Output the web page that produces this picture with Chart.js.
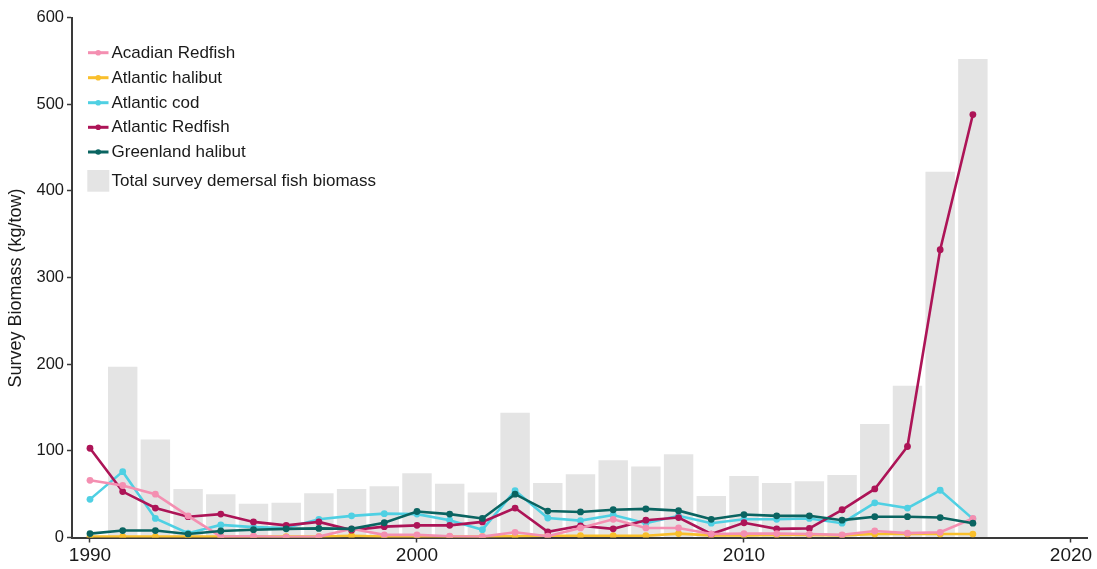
<!DOCTYPE html>
<html>
<head>
<meta charset="utf-8">
<title>Survey Biomass</title>
<script src="https://cdn.jsdelivr.net/npm/chart.js@4.4.1/dist/chart.umd.min.js"></script>
<style>
  html, body { margin: 0; padding: 0; background: #ffffff; }
  #wrap { position: relative; width: 1097px; height: 569px; }
</style>
</head>
<body>
<div id="wrap"><canvas id="chart"></canvas></div>
<script>
// Survey years
const years = [1990, 1991, 1992, 1993, 1994, 1995, 1996, 1997, 1998, 1999,
               2000, 2001, 2002, 2003, 2004, 2005, 2006, 2007, 2008, 2009,
               2010, 2011, 2012, 2013, 2014, 2015, 2016, 2017];

// Total survey demersal fish biomass (kg/tow)
const totalBiomass = [null, 197, 113, 56, 50, 39, 40, 51, 56, 59,
                      74, 62, 52, 144, 63, 73, 89, 82, 96, 48,
                      71, 63, 65, 72, 131, 175, 422, 552];

// Species biomass (kg/tow)
const acadianRedfish = [66, 60, 50, 25, 1, 1.5, 0.5, 1, 10, 3,
                        3, 1.5, 1, 6, 1.5, 11, 21, 11, 11, 4,
                        4.5, 4.5, 4, 3, 7.5, 5, 6, 22];
const atlanticHalibut = [1, 1, 1, 1, 1, 1, 1, 1, 2, 1,
                         1, 1, 1, 1.5, 2, 2, 2, 2, 4.5, 2.5,
                         2.5, 3, 3, 2.5, 4, 4, 4, 4];
const atlanticCod = [44, 76, 22, 5, 14.5, 12, 11, 21, 25, 27.5,
                     27, 20, 9, 54, 22.5, 19.5, 26, 16.5, 25, 16.5,
                     21, 21, 22, 16.5, 40, 34, 54.5, 21.5];
const atlanticRedfish = [103, 53, 34, 24, 27, 18, 14, 18, 8.5, 12.5,
                         14, 14, 18, 34, 6.5, 13.5, 10, 20, 23, 4,
                         17, 10, 10.5, 32, 56, 105, 332, 488];
const greenlandHalibut = [4.5, 8, 8, 4, 7.5, 9, 10, 10.5, 10, 17,
                          30, 27, 22, 50, 30.5, 29.5, 32, 33, 31, 21,
                          26.5, 25, 25, 20, 24, 24, 23, 16.5];

// Axis ticks
const xTickYears = [1990, 2000, 2010, 2020];
const yTickValues = [0, 100, 200, 300, 400, 500, 600];

const FONT = '"Liberation Sans", Arial, Helvetica, sans-serif';
const AXIS_COLOR = '#3a3a3a';
const TEXT_COLOR = '#1a1a1a';

const pairs = (vals) => years.map((y, i) => ({ x: y, y: vals[i] }));

function lineSet(label, vals, color, order) {
  return {
    type: 'line',
    label: label,
    data: pairs(vals),
    borderColor: color,
    backgroundColor: color,
    borderWidth: 2.6,
    pointRadius: 3.4,
    pointHoverRadius: 3.4,
    pointBorderWidth: 0,
    tension: 0,
    order: order
  };
}

const datasets = [
  lineSet('Acadian Redfish', acadianRedfish, '#f48fb1', 2),
  lineSet('Atlantic halibut', atlanticHalibut, '#f9bf2c', 5),
  lineSet('Atlantic cod', atlanticCod, '#4fd0e3', 4),
  lineSet('Atlantic Redfish', atlanticRedfish, '#ad1457', 3),
  lineSet('Greenland halibut', greenlandHalibut, '#0a6461', 1),
  {
    type: 'bar',
    label: 'Total survey demersal fish biomass',
    data: pairs(totalBiomass),
    backgroundColor: '#e4e4e4',
    borderWidth: 0,
    barPercentage: 0.9,
    categoryPercentage: 1.0,
    order: 10
  }
];

// Legend inside the plot and the rotated y-axis title
const overlay = {
  id: 'overlay',
  afterDraw(chart) {
    const ctx = chart.ctx;
    ctx.save();
    ctx.font = '17px ' + FONT;
    ctx.textBaseline = 'middle';
    ctx.textAlign = 'left';
    const rows = [52.7, 77.7, 102.7, 127.3, 152];
    chart.data.datasets.forEach((ds, i) => {
      if (ds.type === 'line') {
        const y = rows[i];
        ctx.strokeStyle = ds.borderColor;
        ctx.lineWidth = 3;
        ctx.beginPath();
        ctx.moveTo(88, y);
        ctx.lineTo(108.5, y);
        ctx.stroke();
        ctx.fillStyle = ds.borderColor;
        ctx.beginPath();
        ctx.arc(98.2, y, 2.8, 0, Math.PI * 2);
        ctx.fill();
        ctx.fillStyle = TEXT_COLOR;
        ctx.fillText(ds.label, 111.5, y + 0.5);
      } else {
        ctx.fillStyle = ds.backgroundColor;
        ctx.fillRect(87.3, 170, 22, 21.7);
        ctx.fillStyle = TEXT_COLOR;
        ctx.fillText(ds.label, 111.5, 181.5);
      }
    });
    // y-axis title
    ctx.translate(16.5, 288);
    ctx.rotate(-Math.PI / 2);
    ctx.textAlign = 'center';
    ctx.font = '18px ' + FONT;
    ctx.fillStyle = TEXT_COLOR;
    ctx.fillText('Survey Biomass (kg/tow)', 0, 0);
    ctx.restore();
  }
};

new Chart(document.getElementById('chart'), {
  type: 'line',
  data: { datasets: datasets },
  plugins: [overlay],
  options: {
    responsive: true,
    maintainAspectRatio: false,
    animation: false,
    devicePixelRatio: 1,
    layout: { padding: { top: 17.5, right: 10, bottom: 0, left: 0 } },
    plugins: {
      legend: { display: false },
      tooltip: { enabled: false }
    },
    scales: {
      x: {
        type: 'linear',
        min: 1989.45,
        max: 2020.49,
        offset: false,
        afterBuildTicks(scale) {
          scale.ticks = xTickYears.map(v => ({ value: v }));
        },
        afterFit(scale) {
          scale.height = 31.5;
          scale.paddingLeft = 0;
          scale.paddingRight = 0;
        },
        ticks: {
          autoSkip: false,
          maxRotation: 0,
          padding: 2,
          color: TEXT_COLOR,
          font: { family: FONT, size: 19 },
          callback: v => String(v)
        },
        grid: {
          offset: false,
          drawOnChartArea: false,
          drawTicks: true,
          tickLength: 5,
          color: AXIS_COLOR,
          tickWidth: 1.5
        },
        border: { display: true, color: AXIS_COLOR, width: 2 }
      },
      y: {
        min: 0,
        max: 600,
        afterBuildTicks(scale) {
          scale.ticks = yTickValues.map(v => ({ value: v }));
        },
        afterFit(scale) {
          scale.width = 72;
          scale.paddingTop = 0;
          scale.paddingBottom = 0;
        },
        ticks: {
          padding: 3,
          color: TEXT_COLOR,
          font: { family: FONT, size: 16.5 },
          callback: v => String(v)
        },
        grid: {
          offset: false,
          drawOnChartArea: false,
          drawTicks: true,
          tickLength: 5,
          color: AXIS_COLOR,
          tickWidth: 1.5
        },
        border: { display: true, color: AXIS_COLOR, width: 2 }
      }
    }
  }
});
</script>
</body>
</html>
